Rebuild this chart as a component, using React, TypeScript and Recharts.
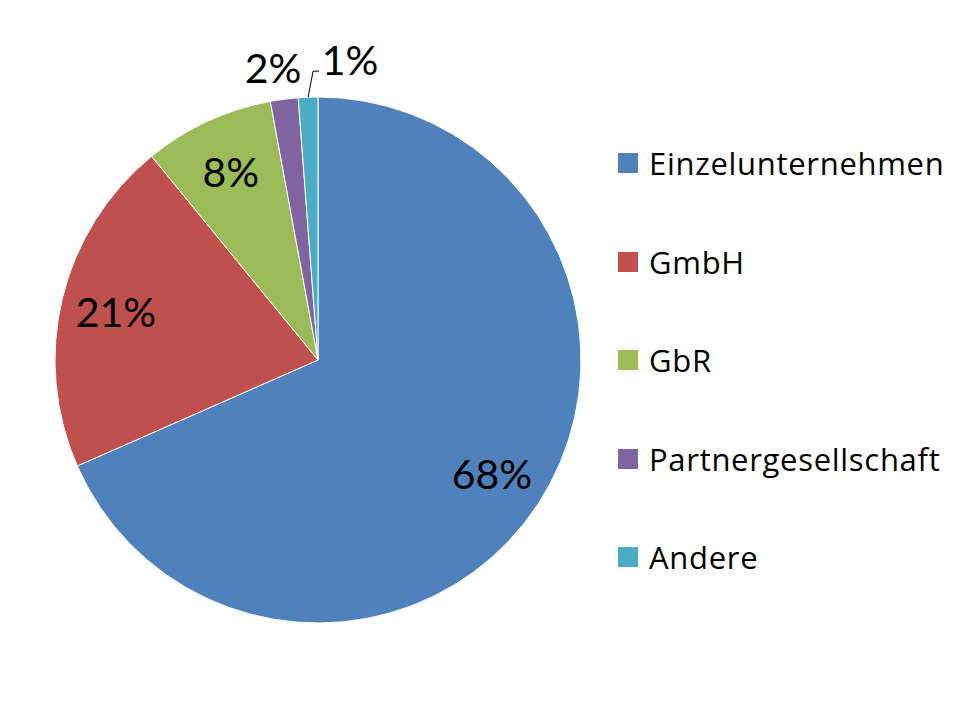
import React from 'react';
import { PieChart, Pie, Cell, Legend } from 'recharts';

const categories = ['Einzelunternehmen', 'GmbH', 'GbR', 'Partnergesellschaft', 'Andere'];
const values = [68.4, 20.7, 8.0, 1.7, 1.2];
const colors = ['#4F81BD', '#C0504D', '#9BBB59', '#8064A2', '#4BACC6'];

const data = categories.map((name, i) => ({ name, value: values[i] }));

const FONT = 'Lato, "Open Sans", sans-serif';
const LEGEND_FONT = '"Open Sans", Lato, sans-serif';
const RAD = Math.PI / 180;

const renderLabel = (props: any) => {
  const { cx, cy, midAngle, outerRadius, percent, index } = props;
  const txt = `${Math.round(percent * 100)}%`;
  const sin = Math.sin(-midAngle * RAD);
  const cos = Math.cos(-midAngle * RAD);
  if (percent >= 0.05) {
    const r = outerRadius * 0.79;
    return (
      <text x={cx + r * cos} y={cy + r * sin} textAnchor="middle" dominantBaseline="central"
        fill="#000" fontSize={41} fontFamily={FONT}>{txt}</text>
    );
  }
  if (index === data.length - 1) {
    const x0 = cx + outerRadius * cos;
    const y0 = cy + outerRadius * sin;
    const ex = x0 + 5;
    const ey = y0 - 26;
    return (
      <g>
        <polyline points={`${x0},${y0} ${ex},${ey} ${ex + 6},${ey}`} fill="none" stroke="#000" strokeWidth={1} />
        <text x={ex + 37} y={ey - 12} textAnchor="middle" dominantBaseline="central"
          fill="#000" fontSize={41} fontFamily={FONT}>{txt}</text>
      </g>
    );
  }
  const r = outerRadius + 32;
  return (
    <text x={cx + r * cos - 7} y={cy + r * sin} textAnchor="middle" dominantBaseline="central"
      fill="#000" fontSize={41} fontFamily={FONT}>{txt}</text>
  );
};

const renderLegend = () => (
  <div style={{ fontFamily: LEGEND_FONT }}>
    {data.map((d, i) => (
      <div key={d.name} style={{ height: 98.5, display: 'flex', alignItems: 'center' }}>
        <div style={{ width: 20, height: 20, background: colors[i], marginRight: 11 }} />
        <span style={{ fontSize: 31, letterSpacing: 0.7, color: '#000', whiteSpace: 'nowrap' }}>{d.name}</span>
      </div>
    ))}
  </div>
);

export default function App() {
  return (
    <div style={{ position: 'absolute', left: 0, top: 0, width: 960, height: 720, background: '#fff' }}>
      <PieChart width={960} height={720} margin={{ top: 0, right: 0, bottom: 0, left: 0 }}>
        <Pie
          data={data}
          dataKey="value"
          nameKey="name"
          cx={318}
          cy={360}
          outerRadius={263}
          startAngle={90}
          endAngle={-270}
          stroke="#fff"
          strokeWidth={1}
          label={renderLabel}
          labelLine={false}
          isAnimationActive={false}
        >
          {data.map((d, i) => (
            <Cell key={d.name} fill={colors[i]} />
          ))}
        </Pie>
        <Legend content={renderLegend} layout="vertical" wrapperStyle={{ left: 618, top: 114, width: 340 }} />
      </PieChart>
    </div>
  );
}
